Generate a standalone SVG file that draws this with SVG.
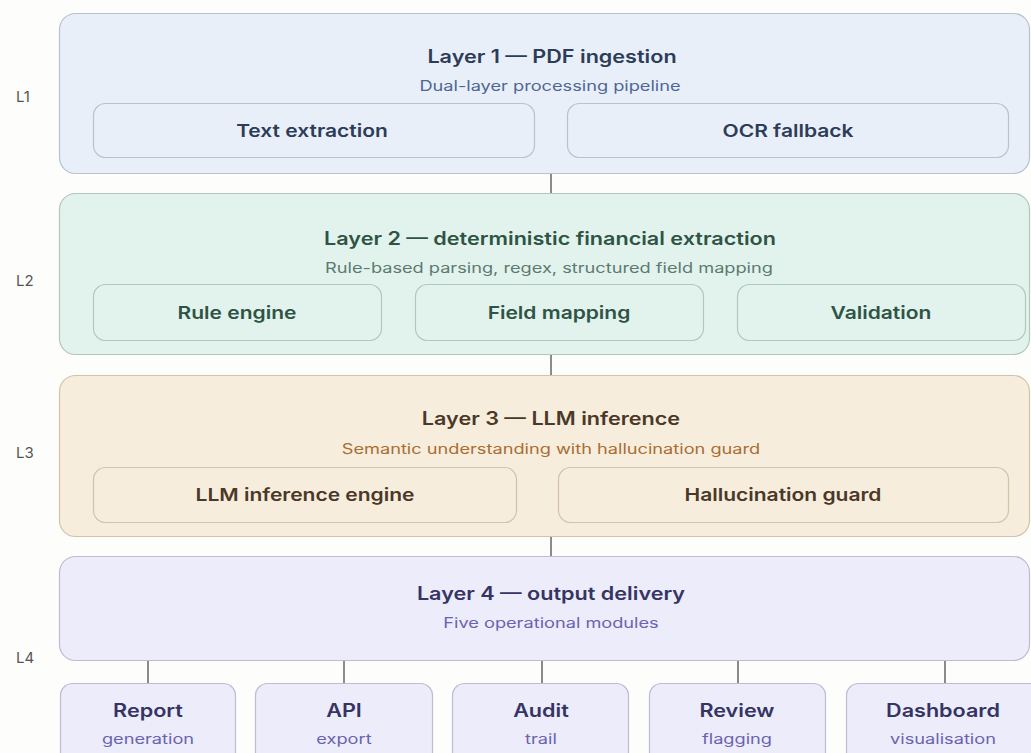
<svg xmlns="http://www.w3.org/2000/svg" width="1031" height="753" viewBox="0 0 1031 753">
<style>
text{font-family:Inter,"Noto Sans","Liberation Sans",sans-serif;text-anchor:middle;transform-box:fill-box;transform-origin:center}
.side{font-size:15px;fill:#555;text-anchor:start}
.t{font-size:18px;font-weight:600;transform:scaleX(1.2)}
.s{font-size:14px;transform:scaleX(1.3)}
.b{font-size:17.5px;font-weight:600;transform:scaleX(1.2)}
.bt{font-size:18px;font-weight:600;transform:scaleX(1.2)}
.outer{stroke-width:1.2}
.inner{stroke-width:1.2}
.conn{stroke:#6f6f6f;stroke-width:1.6;fill:none}
.l1{fill:#e9eff9;stroke:#b9c2cf}
.l2{fill:#e2f3ed;stroke:#b3c7bf}
.l3{fill:#f7eddd;stroke:#d4c3ab}
.l4{fill:#ececfa;stroke:#bdbcd2}
.t1{fill:#2d3d58}.s1{fill:#4d6795}
.t2{fill:#2f5445}.s2{fill:#5d7a70}
.t3{fill:#4a3828}.s3{fill:#a86e32}
.t4{fill:#363463}.s4{fill:#6b62b0}
</style>
<rect width="1031" height="753" fill="#fdfdfc"/>
<g id="side-labels">
<text class="side" x="16" y="102">L1</text>
<text class="side" x="16" y="286">L2</text>
<text class="side" x="16" y="458">L3</text>
<text class="side" x="16" y="663">L4</text>
</g>
<g id="connectors">
<line class="conn" x1="551" y1="174" x2="551" y2="193"/>
<line class="conn" x1="551" y1="355" x2="551" y2="375"/>
<line class="conn" x1="551" y1="537" x2="551" y2="556"/>
<line class="conn" x1="148" y1="661" x2="148" y2="683"/>
<line class="conn" x1="344" y1="661" x2="344" y2="683"/>
<line class="conn" x1="542" y1="661" x2="542" y2="683"/>
<line class="conn" x1="738" y1="661" x2="738" y2="683"/>
<line class="conn" x1="945" y1="661" x2="945" y2="683"/>
</g>
<g id="layer1">
<rect class="outer l1" x="59.5" y="13.5" width="970" height="160" rx="16"/>
<text class="t t1" x="552" y="63">Layer 1 — PDF ingestion</text>
<text class="s s1" x="550" y="91">Dual-layer processing pipeline</text>
<g id="text-extraction"><rect class="inner l1" x="93.5" y="103.5" width="441" height="54" rx="12"/><text class="b t1" x="312" y="137">Text extraction</text></g>
<g id="ocr-fallback"><rect class="inner l1" x="567.5" y="103.5" width="441" height="54" rx="12"/><text class="b t1" x="788" y="137">OCR fallback</text></g>
</g>
<g id="layer2">
<rect class="outer l2" x="59.5" y="193.5" width="970" height="161" rx="16"/>
<text class="t t2" x="550" y="245">Layer 2 — deterministic financial extraction</text>
<text class="s s2" x="549" y="273">Rule-based parsing, regex, structured field mapping</text>
<g id="rule-engine"><rect class="inner l2" x="93.5" y="284.5" width="288" height="56" rx="12"/><text class="b t2" x="237" y="319">Rule engine</text></g>
<g id="field-mapping"><rect class="inner l2" x="415.5" y="284.5" width="288" height="56" rx="12"/><text class="b t2" x="559" y="319">Field mapping</text></g>
<g id="validation"><rect class="inner l2" x="737.5" y="284.5" width="288" height="56" rx="12"/><text class="b t2" x="881" y="319">Validation</text></g>
</g>
<g id="layer3">
<rect class="outer l3" x="59.5" y="375.5" width="970" height="161" rx="16"/>
<text class="t t3" x="551" y="425">Layer 3 — LLM inference</text>
<text class="s s3" x="551" y="454">Semantic understanding with hallucination guard</text>
<g id="llm-engine"><rect class="inner l3" x="93.5" y="467.5" width="423" height="55" rx="12"/><text class="b t3" x="305" y="501">LLM inference engine</text></g>
<g id="hallucination-guard"><rect class="inner l3" x="558.5" y="467.5" width="450" height="55" rx="12"/><text class="b t3" x="783" y="501">Hallucination guard</text></g>
</g>
<g id="layer4">
<rect class="outer l4" x="59.5" y="556.5" width="970" height="104" rx="16"/>
<text class="t t4" x="551" y="600">Layer 4 — output delivery</text>
<text class="s s4" x="551" y="628">Five operational modules</text>
</g>
<g id="report"><rect class="inner l4" x="60.5" y="683.5" width="175" height="90" rx="12"/><text class="bt t4" x="148" y="717">Report</text><text class="s s4" x="148" y="744">generation</text></g>
<g id="api"><rect class="inner l4" x="255.5" y="683.5" width="177" height="90" rx="12"/><text class="bt t4" x="344" y="717">API</text><text class="s s4" x="344" y="744">export</text></g>
<g id="audit"><rect class="inner l4" x="452.5" y="683.5" width="176" height="90" rx="12"/><text class="bt t4" x="541" y="717">Audit</text><text class="s s4" x="541" y="744">trail</text></g>
<g id="review"><rect class="inner l4" x="649.5" y="683.5" width="176" height="90" rx="12"/><text class="bt t4" x="737" y="717">Review</text><text class="s s4" x="737" y="744">flagging</text></g>
<g id="dashboard"><rect class="inner l4" x="846.5" y="683.5" width="196" height="90" rx="12"/><text class="bt t4" x="943" y="717">Dashboard</text><text class="s s4" x="943" y="744">visualisation</text></g>
</svg>
